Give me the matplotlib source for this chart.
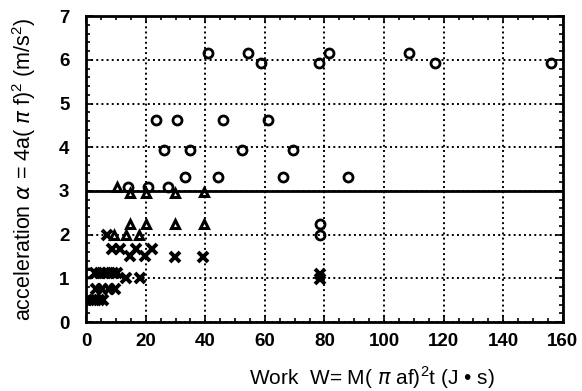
import numpy as np
from matplotlib import pyplot as plt
from matplotlib.ticker import MultipleLocator

plt.rcParams['font.family'] = ['Liberation Sans', 'DejaVu Sans']
plt.rcParams['mathtext.fontset'] = 'custom'
plt.rcParams['mathtext.rm'] = 'Liberation Sans'

# circles
circ_x = [41, 54.5, 58.8, 78.1, 81.5, 108.4, 117, 156,
          23.3, 30.4, 45.9, 61, 26.3, 34.9, 52.3, 69.4,
          33.1, 44.3, 66.2, 87.9, 14, 20.7, 27.4, 78.4, 78.4, 1.1]
circ_y = [6.15, 6.15, 5.92, 5.92, 6.15, 6.15, 5.92, 5.92,
          4.62, 4.62, 4.62, 4.62, 3.93, 3.93, 3.93, 3.93,
          3.32, 3.32, 3.32, 3.32, 3.09, 3.09, 3.09, 2.24, 1.99, 1.13]

# triangles
tri_x = [10.3, 14.8, 20.2, 29.7, 39.4, 14.8, 20.0, 29.7, 39.4, 9.4, 13.4, 17.6]
tri_y = [3.08, 2.96, 2.96, 2.96, 2.98, 2.24, 2.24, 2.24, 2.24, 1.99, 1.99, 1.99]

# crosses
x_x = [6.9, 8.6, 11.2, 16.8, 22.0, 14.8, 19.8, 29.7, 39.2,
       3.0, 4.5, 6.0, 7.5, 9.0, 10.5, 13.4, 18.1, 78.4, 78.4,
       3.2, 5.4, 7.6, 9.8, 0.8, 2.5, 4.2, 5.8]
x_y = [1.99, 1.67, 1.67, 1.67, 1.67, 1.52, 1.52, 1.49, 1.49,
       1.12, 1.12, 1.12, 1.12, 1.12, 1.12, 1.02, 1.02, 1.1, 0.98,
       0.77, 0.77, 0.77, 0.77, 0.5, 0.5, 0.5, 0.5]

fig = plt.figure(figsize=(5.82, 3.91), dpi=100)
ax = fig.add_axes([0.148, 0.176, 0.819, 0.783])

ax.plot(circ_x, circ_y, 'o', ms=6.5, mfc='none', mec='black', mew=2)
ax.plot(tri_x, tri_y, '^', ms=6, mfc='none', mec='black', mew=2.2)
ax.plot(x_x, x_y, 'x', ms=6.5, mec='black', mew=2.8)
ax.axhline(3, color='black', lw=2)

ax.set_xlim(0, 160)
ax.set_ylim(0, 7)
ax.xaxis.set_major_locator(MultipleLocator(20))
ax.xaxis.set_minor_locator(MultipleLocator(5))
ax.yaxis.set_major_locator(MultipleLocator(1))
ax.yaxis.set_minor_locator(MultipleLocator(0.2))
ax.tick_params(which='both', direction='in', top=True, right=True, width=1.2)
ax.tick_params(which='major', length=5, labelsize=13.5)
ax.tick_params(axis='x', which='major', pad=8)
ax.tick_params(axis='y', which='major', pad=12)
ax.tick_params(which='minor', length=3)
for lb in ax.get_xticklabels() + ax.get_yticklabels():
    lb.set_fontweight('bold')
ax.grid(True, which='major', ls=':', color='black', lw=1.4)
for s in ax.spines.values():
    s.set_linewidth(2)

ax.set_xlabel(r'Work  W= M( $\pi$ af)$^2$t (J • s)', fontsize=15)
ax.set_ylabel(r'acceleration $\alpha$ = 4a( $\pi$ f)$^2$ (m/s$^2$)', fontsize=15.5)
ax.xaxis.set_label_coords(0.6, -0.138)
ax.yaxis.set_label_coords(-0.1, 0.5)

plt.savefig('out.png', dpi=100)
